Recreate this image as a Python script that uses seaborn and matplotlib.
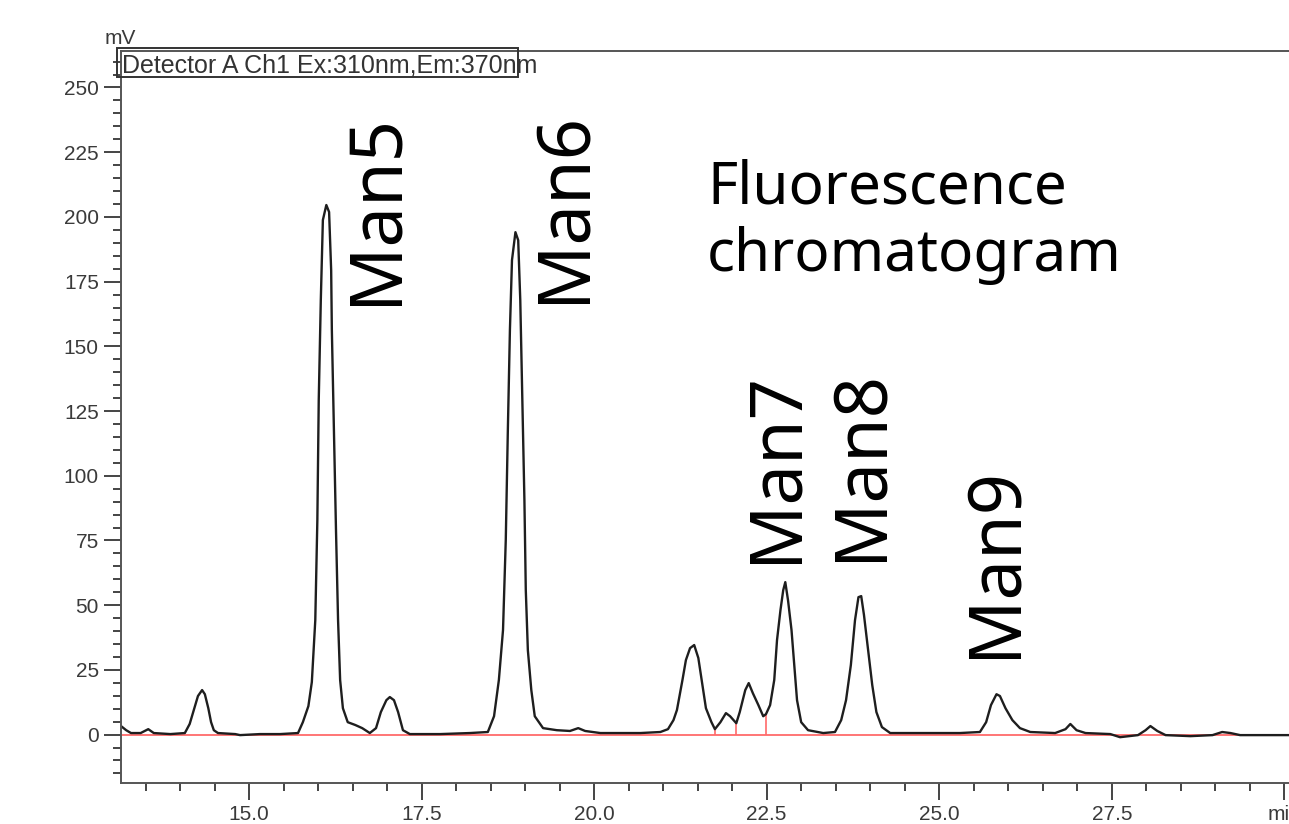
import matplotlib.pyplot as plt
import seaborn as sns
import pandas as pd
from matplotlib.patches import Rectangle
from matplotlib.ticker import MultipleLocator

# chromatogram trace (retention time in min, signal in mV)
time_min = [
    13.145, 13.22, 13.29, 13.43, 13.54, 13.62, 13.86, 14.07, 14.14, 14.20,
    14.26, 14.32, 14.36, 14.41, 14.45, 14.49, 14.55, 14.80, 14.87, 15.16,
    15.45, 15.71, 15.78, 15.86, 15.91, 15.96, 15.99, 16.01, 16.04, 16.07,
    16.12, 16.16, 16.19, 16.20, 16.23, 16.26, 16.29, 16.32, 16.36, 16.43,
    16.54, 16.64, 16.75, 16.84, 16.91, 16.99, 17.04, 17.10, 17.16, 17.23,
    17.33, 17.77, 18.20, 18.46, 18.55, 18.62, 18.68, 18.72, 18.75, 18.78,
    18.81, 18.86, 18.90, 18.93, 18.96, 18.99, 19.01, 19.04, 19.09, 19.14,
    19.26, 19.46, 19.65, 19.77, 19.87, 20.09, 20.67, 20.96, 21.07, 21.15,
    21.20, 21.28, 21.33, 21.39, 21.45, 21.51, 21.57, 21.62, 21.70, 21.75,
    21.83, 21.91, 21.97, 22.06, 22.11, 22.19, 22.24, 22.30, 22.38, 22.45,
    22.49, 22.55, 22.61, 22.65, 22.70, 22.74, 22.77, 22.81, 22.86, 22.90,
    22.94, 23.00, 23.10, 23.32, 23.49, 23.58, 23.65, 23.72, 23.78, 23.83,
    23.87, 23.91, 23.97, 24.03, 24.09, 24.17, 24.29, 24.72, 25.30, 25.59,
    25.68, 25.75, 25.83, 25.88, 25.96, 26.06, 26.17, 26.32, 26.68, 26.83,
    26.90, 26.99, 27.12, 27.48, 27.62, 27.88, 27.99, 28.06, 28.16, 28.28,
    28.64, 28.96, 29.10, 29.22, 29.36, 30.30,
]
signal_mv = [
    3.3, 1.7, 0.6, 0.6, 2.1, 0.6, 0.2, 0.6, 4.1, 9.5,
    14.9, 17.2, 15.6, 10.2, 4.8, 1.7, 0.6, 0.2, -0.2, 0.2,
    0.2, 0.6, 4.8, 11.0, 20.3, 44.2, 82.9, 129.2, 167.9, 198.8,
    204.6, 201.9, 179.4, 156.3, 117.6, 79.0, 44.2, 21.1, 10.2, 4.8,
    3.7, 2.5, 0.6, 2.5, 8.7, 13.3, 14.5, 13.3, 8.7, 1.7,
    0.2, 0.2, 0.6, 1.0, 7.1, 21.1, 40.4, 75.2, 117.6, 156.3,
    183.3, 194.1, 191.0, 167.9, 129.2, 90.6, 55.8, 32.6, 17.2, 7.1,
    2.5, 1.7, 1.4, 2.5, 1.4, 0.6, 0.6, 1.0, 2.1, 5.6,
    9.5, 21.1, 28.8, 33.4, 34.6, 29.6, 19.1, 10.2, 4.8, 2.1,
    4.8, 8.3, 7.1, 4.4, 8.7, 17.2, 19.9, 16.0, 11.4, 7.1,
    7.9, 11.4, 21.1, 36.5, 48.1, 55.8, 58.9, 51.8, 40.4, 26.9,
    13.3, 4.8, 1.7, 0.6, 1.0, 5.6, 13.3, 26.9, 44.2, 53.1,
    53.5, 46.2, 32.6, 19.1, 8.7, 2.9, 0.6, 0.6, 0.6, 1.0,
    4.8, 11.4, 15.6, 14.9, 10.2, 5.6, 2.5, 1.0, 0.6, 2.1,
    4.1, 1.7, 0.6, 0.2, -1.0, -0.2, 1.7, 3.3, 1.4, -0.2,
    -0.6, -0.2, 1.0, 0.6, -0.2, -0.2,
]

# integration markers (red drop lines)
marker_t = [21.75, 22.06, 22.49]
marker_top = [2.1, 4.4, 7.9]

peak_names = ["Man5", "Man6", "Man7", "Man8", "Man9"]
label_t = [16.84, 19.57, 22.64, 23.87, 25.81]
label_mv = [203, 204, 103.5, 104, 66.5]

x_ticks = [15.0, 17.5, 20.0, 22.5, 25.0, 27.5, 30.0]
x_tick_labels = ["15.0", "17.5", "20.0", "22.5", "25.0", "27.5", "min"]
y_ticks = [0, 25, 50, 75, 100, 125, 150, 175, 200, 225, 250]

df = pd.DataFrame({"time": time_min, "mV": signal_mv})

sns.set_theme(style="ticks")
plt.rcParams["font.family"] = ["Liberation Sans", "DejaVu Sans"]

W, H = 1289, 824
fig = plt.figure(figsize=(W / 100, H / 100), dpi=100)


def fx(px):
    return px / W


def fy(py):
    return 1 - py / H


ax = fig.add_axes([fx(121), fy(783), fx(1305) - fx(121), fy(51) - fy(783)])

sns.lineplot(data=df, x="time", y="mV", ax=ax, color="#1e1e1e", lw=1.7,
             estimator=None, sort=False)
ax.axhline(0, color="#ff6a6a", lw=1.3, zorder=1)
ax.vlines(marker_t, 0, marker_top, color="#ff6a6a", lw=1.2, zorder=1)

ax.set_xlim(13.145, 30.30)
ax.set_ylim(-18.7, 264.1)
ax.set_xlabel("")
ax.set_ylabel("")

ax.set_xticks(x_ticks)
ax.set_xticklabels(x_tick_labels)
ax.set_yticks(y_ticks)
ax.xaxis.set_minor_locator(MultipleLocator(0.5))
ax.yaxis.set_minor_locator(MultipleLocator(5))
ax.tick_params(which="major", length=12, width=1.4, color="#444444",
               labelsize=15, labelcolor="#3a3a3a", pad=4, direction="out")
ax.tick_params(which="minor", length=6, width=1.4, color="#444444",
               direction="out")
for side in ["left", "bottom", "top", "right"]:
    ax.spines[side].set_color("#555555")
    ax.spines[side].set_linewidth(1.4)

fig.text(fx(120), fy(39), "mV", fontsize=15, color="#3a3a3a",
         ha="center", va="center")

# detector caption box (text runs slightly past the frame, as in the original)
fig.patches.append(Rectangle((fx(117), fy(77)), fx(518) - fx(117), fy(48) - fy(77),
                             transform=fig.transFigure, fill=False,
                             edgecolor="#333333", lw=1.4))
fig.text(fx(122), fy(72), "Detector A Ch1 Ex:310nm,Em:370nm", fontsize=18,
         color="#333333", ha="left", va="baseline")

for name, t, v in zip(peak_names, label_t, label_mv):
    ax.text(t, v, name, rotation=90, ha="center", va="center", fontsize=52,
            color="black", family=["Noto Sans", "DejaVu Sans"])

fig.text(fx(707), fy(203), "Fluorescence", fontsize=42, color="black",
         ha="left", va="baseline", family=["Noto Sans", "DejaVu Sans"])
fig.text(fx(707), fy(271), "chromatogram", fontsize=42, color="black",
         ha="left", va="baseline", family=["Noto Sans", "DejaVu Sans"])

fig.savefig("out.png", dpi=100)
